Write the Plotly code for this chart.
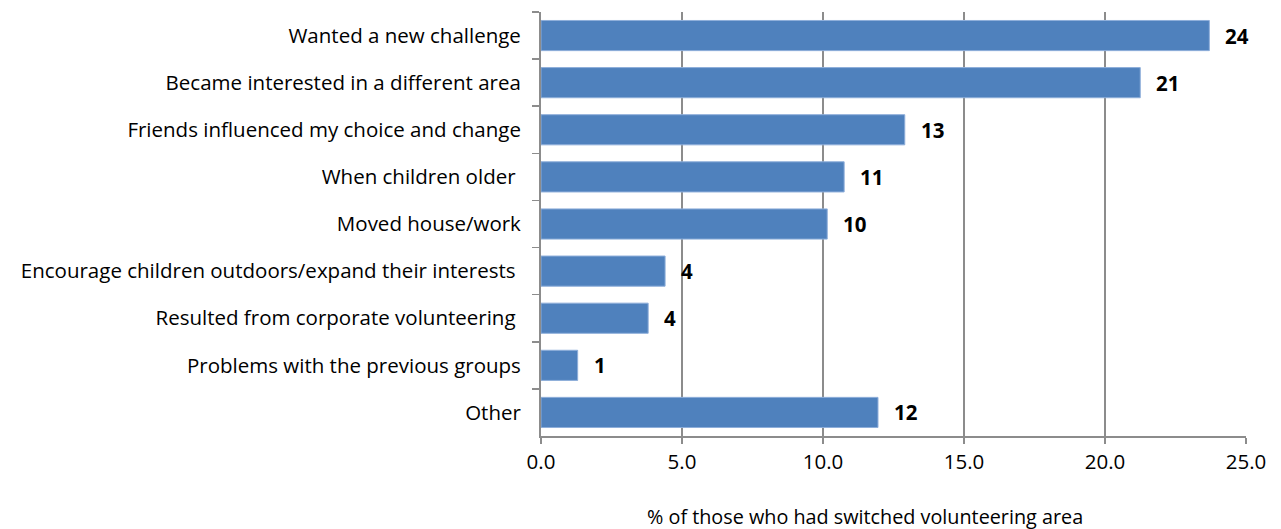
import plotly.graph_objects as go

categories = [
    "Wanted a new challenge",
    "Became interested in a different area",
    "Friends influenced my choice and change",
    "When children older ",
    "Moved house/work",
    "Encourage children outdoors/expand their interests ",
    "Resulted from corporate volunteering ",
    "Problems with the previous groups",
    "Other",
]
values = [23.7, 21.25, 12.9, 10.75, 10.15, 4.4, 3.8, 1.3, 11.95]
labels = ["24", "21", "13", "11", "10", "4", "4", "1", "12"]
x_ticks = [0, 5, 10, 15, 20, 25]
x_tick_text = ["0.0", "5.0", "10.0", "15.0", "20.0", "25.0"]
x_title = "% of those who had switched volunteering area"

FONT = "Open Sans, sans-serif"
FS = 20.5

fig = go.Figure()
fig.add_trace(go.Bar(
    x=values, y=categories, orientation="h",
    marker=dict(color="#4F81BD", line=dict(color="#8EAEDA", width=1)),
    width=0.64, hoverinfo="skip",
))

for c, v, t in zip(categories, values, labels):
    fig.add_annotation(x=v, y=c, text="<b>" + t + "</b>", showarrow=False,
                       xanchor="left", yanchor="middle", xshift=14,
                       font=dict(family=FONT, size=FS, color="#000000"))

# axis title placed as a paper-anchored annotation (reference title sits left of the plot centre)
fig.add_annotation(xref="paper", yref="paper", x=0.46, y=-0.19,
                   text=x_title, showarrow=False, xanchor="center", yanchor="middle",
                   font=dict(family=FONT, size=19.8, color="#000000"))

fig.update_layout(
    width=1281, height=529,
    margin=dict(l=541, r=35, t=12, b=93),
    plot_bgcolor="white", paper_bgcolor="white",
    showlegend=False,
    font=dict(family=FONT, size=FS, color="#000000"),
    xaxis=dict(
        range=[0, 25], tickvals=x_ticks, ticktext=x_tick_text,
        showgrid=True, gridcolor="#8C8C8C", gridwidth=1.5,
        showline=True, linecolor="#8C8C8C", linewidth=2,
        ticks="outside", ticklen=6, tickcolor="#8C8C8C", tickwidth=1.5,
        zeroline=False, fixedrange=True, automargin=False,
        tickfont=dict(size=FS),
    ),
    yaxis=dict(
        autorange="reversed", showline=True, linecolor="#8C8C8C", linewidth=2,
        ticks="outside", ticklen=7, tickcolor="#8C8C8C", tickwidth=1.5,
        tickson="boundaries", showgrid=False, ticklabelstandoff=14,
        tickfont=dict(size=FS), fixedrange=True, automargin=False,
    ),
)

# remove the page's default body margin so the 1281x529 figure fills the window exactly
fig.write_html(
    "out.html",
    config={"displayModeBar": False, "staticPlot": True},
    post_script="document.body.style.margin='0';document.documentElement.style.overflow='hidden';",
)
